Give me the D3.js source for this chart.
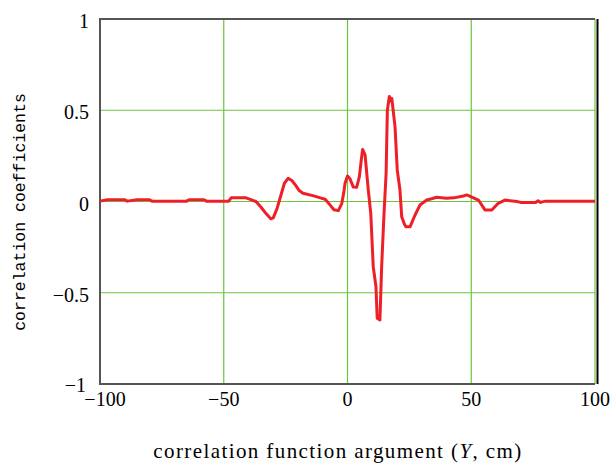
<!DOCTYPE html>
<html>
<head>
<meta charset="utf-8">
<script src="https://cdn.jsdelivr.net/npm/d3@7"></script>
<style>
  html, body { margin: 0; padding: 0; background: #fff; }
  svg { display: block; }
</style>
</head>
<body>
<svg id="chart" width="611" height="464"></svg>
<script>
// Correlation function: argument Y (cm) and coefficient values
const lagCm = [
  -100, -97, -90, -89, -85, -80, -79, -65, -64, -58, -57, -48, -47, -41, -39, -37,
  -35, -33, -31, -30, -28.5, -27, -25.5, -24, -22.5, -21, -19.5, -18, -14, -11, -9,
  -7, -5.5, -3.7, -2.3, -1.5, -1, 0, 1, 2.3, 3.7, 4.8, 5.5, 6.1, 7.1, 8.4, 9.4,
  10.4, 11.5, 12.0, 13.1, 13.8, 14.7, 15.6, 16.1, 16.9, 17.5, 17.9, 19.2, 20.1,
  21.2, 21.9, 23, 23.6, 25.3, 27.3, 29.3, 32, 34, 36, 40, 43, 46.8, 48.2, 50, 52.9,
  55.6, 58.3, 60.9, 63.6, 68.4, 70, 76, 77, 78, 80, 100
];
const corrCoef = [
  0.002, 0.01, 0.01, 0.002, 0.01, 0.01, 0.002, 0.002, 0.01, 0.01, 0.002, 0.002, 0.02, 0.02, 0.01, 0.0,
  -0.03, -0.065, -0.095, -0.09, -0.04, 0.03, 0.1, 0.127, 0.115, 0.09, 0.06, 0.045, 0.032, 0.02, 0.012,
  -0.02, -0.045, -0.05, -0.01, 0.05, 0.1, 0.14, 0.125, 0.08, 0.078, 0.136, 0.22, 0.285, 0.255, 0.063, -0.065,
  -0.357, -0.467, -0.64, -0.649, -0.357, -0.083, 0.154, 0.5, 0.575, 0.55, 0.565, 0.41, 0.173,
  0.063, -0.083, -0.125, -0.138, -0.138, -0.074, -0.019, 0.008, 0.015, 0.023, 0.018, 0.02, 0.03, 0.036, 0.025, 0.008,
  -0.047, -0.047, -0.01, 0.008, 0, -0.005, -0.005, 0.004, -0.005, 0.002, 0.002
];
const xTicks = [-100, -50, 0, 50, 100];
const yTicks = [-1, -0.5, 0, 0.5, 1];
const xTickLabels = ["\u2212100", "\u221250", "0", "50", "100"];
const yTickLabels = ["\u22121", "\u22120.5", "0", "0.5", "1"];

const svg = d3.select("#chart");
const plotLeft = 100, plotRight = 595, plotTop = 19, plotBottom = 384;

const x = d3.scaleLinear().domain([-100, 100]).range([plotLeft, plotRight]);
const y = d3.scaleLinear().domain([-1, 1]).range([plotBottom, plotTop]);

const gridColor = "#6cc43e";
const frameColor = "#555";

// Grid lines
svg.append("g").selectAll("line").data(xTicks.slice(1)).join("line")
  .attr("x1", d => x(d)).attr("x2", d => x(d))
  .attr("y1", plotTop).attr("y2", plotBottom)
  .attr("stroke", gridColor).attr("stroke-width", 1.2);
svg.append("g").selectAll("line").data(yTicks.slice(1, -1)).join("line")
  .attr("x1", plotLeft).attr("x2", plotRight)
  .attr("y1", d => y(d)).attr("y2", d => y(d))
  .attr("stroke", gridColor).attr("stroke-width", 1.2);

// Frame: left, top, bottom in grey, black edge on the right
svg.append("path")
  .attr("d", `M${plotRight},${plotTop}H${plotLeft}V${plotBottom}H${plotRight}`)
  .attr("fill", "none").attr("stroke", frameColor).attr("stroke-width", 2);
svg.append("line")
  .attr("x1", plotRight + 2.5).attr("x2", plotRight + 2.5)
  .attr("y1", plotTop).attr("y2", plotBottom)
  .attr("stroke", "#000").attr("stroke-width", 2);

// Tick labels
const tickFont = "'Liberation Serif', 'Times New Roman', serif";
svg.append("g").selectAll("text").data(xTicks).join("text")
  .attr("x", d => x(d) + (d === -100 ? 5 : 0))
  .attr("y", plotBottom + 22)
  .attr("text-anchor", "middle")
  .attr("font-family", tickFont).attr("font-size", 20)
  .text((d, i) => xTickLabels[i]);
svg.append("g").selectAll("text").data(yTicks).join("text")
  .attr("x", d => d === -1 ? plotLeft - 14 : plotLeft - 11)
  .attr("y", d => y(d) + (d === -1 ? 8 : 9))
  .attr("text-anchor", "end")
  .attr("font-family", tickFont).attr("font-size", 20)
  .text((d, i) => yTickLabels[i]);

// Axis titles
const xTitle = svg.append("text")
  .attr("x", 338).attr("y", 458)
  .attr("text-anchor", "middle")
  .attr("font-family", tickFont).attr("font-size", 21)
  .attr("letter-spacing", 1.4);
xTitle.append("tspan").text("correlation function argument (");
xTitle.append("tspan").attr("font-style", "italic").text("Y");
xTitle.append("tspan").text(", cm)");

svg.append("text")
  .attr("transform", "translate(25,212) rotate(-90)")
  .attr("text-anchor", "middle")
  .attr("font-family", "'Liberation Mono', 'Courier New', monospace")
  .attr("font-size", 16.5)
  .text("correlation coefficients");

// Correlation curve
const points = lagCm.map((v, i) => [v, corrCoef[i]]);
svg.append("path")
  .datum(points)
  .attr("d", d3.line().x(d => x(d[0])).y(d => y(d[1])))
  .attr("fill", "none")
  .attr("stroke", "#ee1f26")
  .attr("stroke-width", 3)
  .attr("stroke-linejoin", "round");
</script>
</body>
</html>
